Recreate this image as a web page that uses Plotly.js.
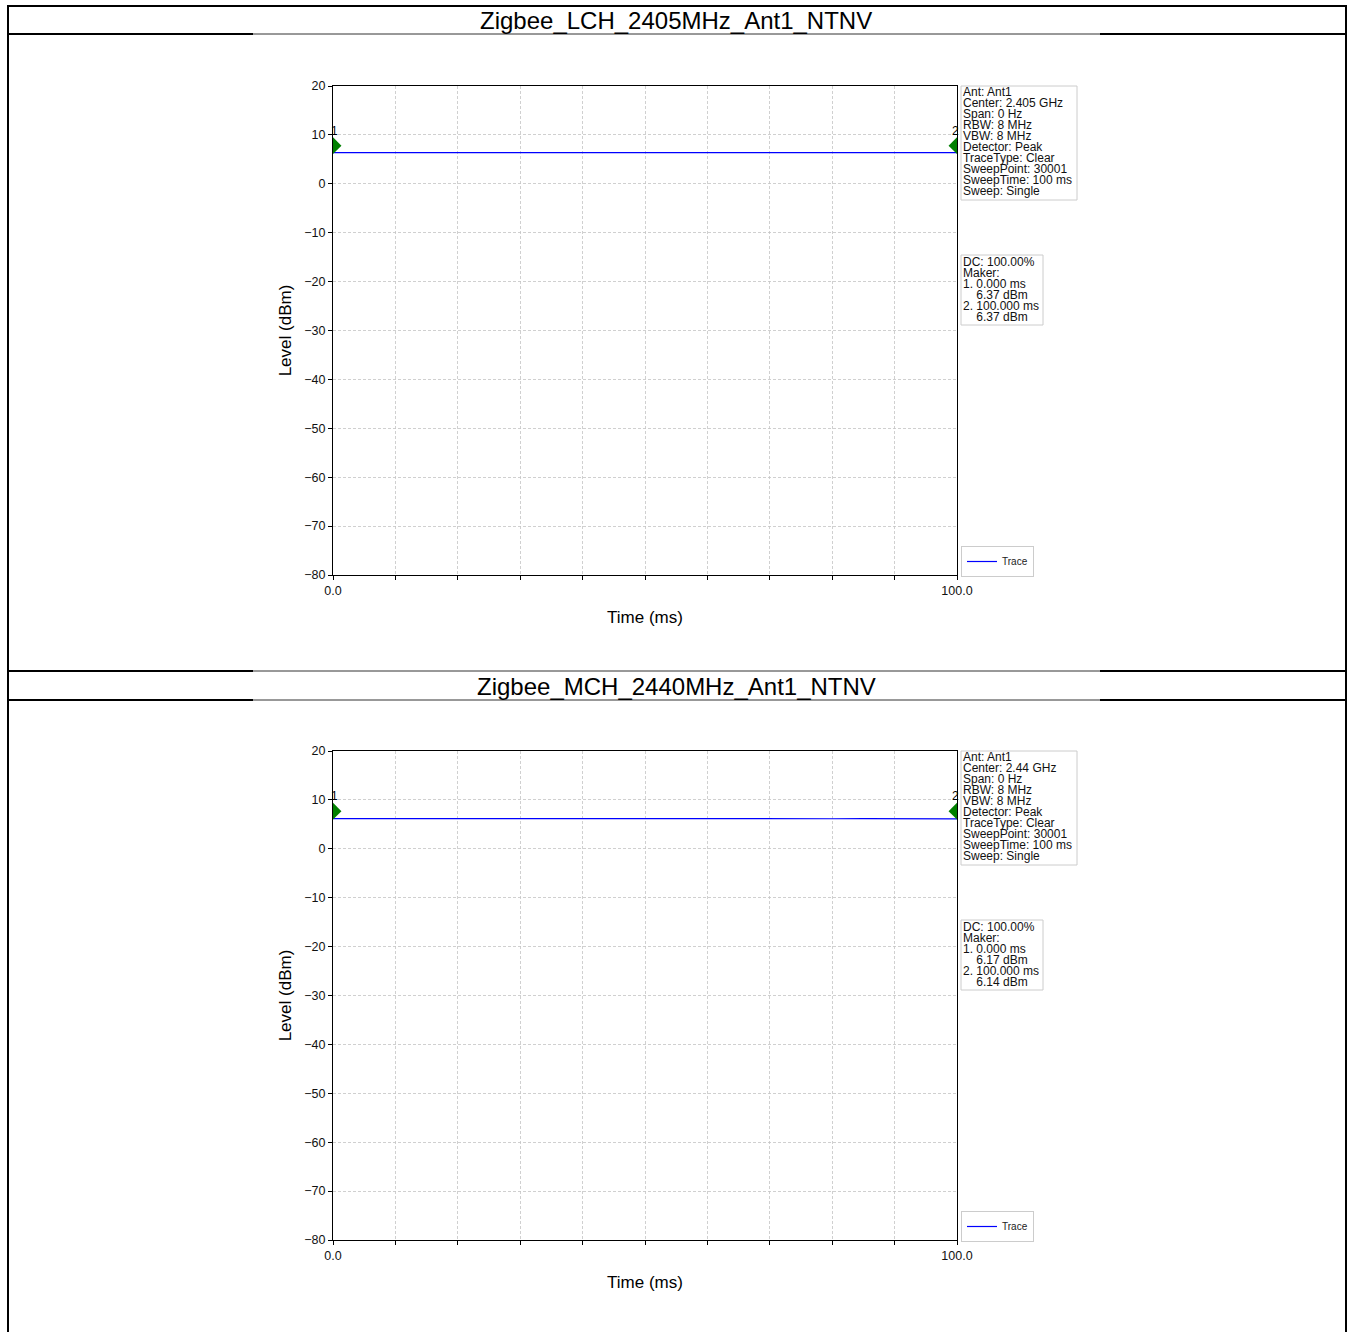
<!DOCTYPE html>
<html>
<head>
<meta charset="utf-8">
<script src="https://cdn.plot.ly/plotly-3.0.1.min.js"></script>
<style>
html,body{margin:0;padding:0;background:#fff;}
#chart{width:1348px;height:1332px;}
</style>
</head>
<body>
<div id="chart"></div>
<script>
// ---------- data ----------
const chartTitles = ["Zigbee_LCH_2405MHz_Ant1_NTNV", "Zigbee_MCH_2440MHz_Ant1_NTNV"];
const timeMs = [0, 5, 10, 15, 20, 25, 30, 35, 40, 45, 50, 55, 60, 65, 70, 75, 80, 85, 90, 95, 100];
const lchLevel = [6.37, 6.36, 6.38, 6.35, 6.37, 6.39, 6.36, 6.37, 6.35, 6.38, 6.36, 6.37, 6.39, 6.36, 6.35, 6.37, 6.38, 6.36, 6.37, 6.35, 6.37];
const mchLevel = [6.17, 6.16, 6.15, 6.17, 6.14, 6.16, 6.15, 6.17, 6.16, 6.14, 6.15, 6.16, 6.17, 6.15, 6.14, 6.16, 6.15, 6.17, 6.16, 6.15, 6.14];
const markerTime = [0, 100];
const markerLabels = ["1", "2"];
const lchMarkerLevel = [7.8, 7.8];
const mchMarkerLevel = [7.7, 7.7];
const xTickVals = [0, 10, 20, 30, 40, 50, 60, 70, 80, 90, 100];
const xTickText = ["0.0", "", "", "", "", "", "", "", "", "", "100.0"];
const yTickVals = [-80, -70, -60, -50, -40, -30, -20, -10, 0, 10, 20];
const lchInfo = ["Ant: Ant1", "Center: 2.405 GHz", "Span: 0 Hz", "RBW: 8 MHz", "VBW: 8 MHz", "Detector: Peak", "TraceType: Clear", "SweepPoint: 30001", "SweepTime: 100 ms", "Sweep: Single"];
const mchInfo = ["Ant: Ant1", "Center: 2.44 GHz", "Span: 0 Hz", "RBW: 8 MHz", "VBW: 8 MHz", "Detector: Peak", "TraceType: Clear", "SweepPoint: 30001", "SweepTime: 100 ms", "Sweep: Single"];
const lchMaker = ["DC: 100.00%", "Maker:", "1. 0.000 ms", "    6.37 dBm", "2. 100.000 ms", "    6.37 dBm"];
const mchMaker = ["DC: 100.00%", "Maker:", "1. 0.000 ms", "    6.17 dBm", "2. 100.000 ms", "    6.14 dBm"];

// ---------- layout helpers ----------
const W = 1348, H = 1332;
const X = p => p / W;
const Y = p => 1 - p / H;
const FONT = "Arial, 'Liberation Sans', sans-serif";
const OFF = 665; // vertical offset of second block
const BOX_FONT = 12, BOX_LINE = 11; // px

const shapes = [];
const annotations = [];

function hline(y, x0, x1, w, c) {
  shapes.push({type: 'line', xref: 'paper', yref: 'paper', x0: X(x0), x1: X(x1), y0: Y(y), y1: Y(y), line: {color: c || '#000', width: w}});
}
function vline(x, y0, y1, w) {
  shapes.push({type: 'line', xref: 'paper', yref: 'paper', x0: X(x), x1: X(x), y0: Y(y0), y1: Y(y1), line: {color: '#000', width: w}});
}
// table frame
hline(6, 7, 1347, 2);
vline(8, 5, 1332, 2);
vline(1346, 5, 1332, 2);
[34, 671, 700].forEach(y => {
  hline(y, 7, 253, 2);
  hline(y, 253, 1100, 1, '#333');
  hline(y, 1100, 1347, 2);
});

function boxText(lines) {
  return lines.map(t => t.replace(/^ +/, m => '\u00A0'.repeat(m.length))).join('<br>');
}

function block(k, info, maker) {
  const o = k * OFF;
  annotations.push({xref: 'paper', yref: 'paper', x: X(676), y: Y(21 + o), text: chartTitles[k], showarrow: false,
    xanchor: 'center', yanchor: 'middle', font: {family: FONT, size: 24, color: '#000'}});
  // info box
  shapes.push({type: 'rect', xref: 'paper', yref: 'paper', x0: X(961), x1: X(1077), y0: Y(86 + o), y1: Y(200 + o),
    line: {color: '#cccccc', width: 1}, fillcolor: '#fff'});
  annotations.push({xref: 'paper', yref: 'paper', x: X(962), y: Y(84 + o), text: boxText(info), showarrow: false,
    xanchor: 'left', yanchor: 'top', align: 'left', borderpad: 0, font: {family: FONT, size: BOX_FONT, color: '#111'}});
  shapes.push({type: 'rect', xref: 'paper', yref: 'paper', x0: X(961), x1: X(1043), y0: Y(255 + o), y1: Y(325 + o),
    line: {color: '#cccccc', width: 1}, fillcolor: '#fff'});
  annotations.push({xref: 'paper', yref: 'paper', x: X(962), y: Y(254 + o), text: boxText(maker), showarrow: false,
    xanchor: 'left', yanchor: 'top', align: 'left', borderpad: 0, font: {family: FONT, size: BOX_FONT, color: '#111'}});
  // marker numbers
  const xa = k === 0 ? 'x' : 'x2', ya = k === 0 ? 'y' : 'y2';
  markerTime.forEach((t, i) => {
    annotations.push({xref: xa, yref: ya, x: t, y: 10.8, text: markerLabels[i], showarrow: false,
      xanchor: i === 0 ? 'center' : 'right', xshift: i === 0 ? 1 : 4, yanchor: 'middle', font: {family: FONT, size: 12, color: '#000'}});
  });
}
block(0, lchInfo, lchMaker);
block(1, mchInfo, mchMaker);

function xaxisDef(anchor) {
  return {
    domain: [X(333), X(957)], anchor: anchor, range: [0, 100],
    tickmode: 'array', tickvals: xTickVals, ticktext: xTickText,
    ticks: 'outside', ticklen: 4, tickcolor: '#000', tickwidth: 1,
    showline: true, linecolor: '#000', linewidth: 1, mirror: true,
    showgrid: true, gridcolor: '#c4c4c4', griddash: '3px,2px', gridwidth: 0.8, zeroline: false,
    tickfont: {family: FONT, size: 12.5, color: '#111'},
    title: {text: 'Time (ms)', font: {family: FONT, size: 17, color: '#000'}, standoff: 14},
    fixedrange: true
  };
}
function yaxisDef(anchor, top, bottom) {
  return {
    domain: [Y(bottom), Y(top)], anchor: anchor, range: [-80, 20],
    tickmode: 'array', tickvals: yTickVals,
    ticks: 'outside', ticklen: 4, tickcolor: '#000', tickwidth: 1,
    showline: true, linecolor: '#000', linewidth: 1, mirror: true,
    showgrid: true, gridcolor: '#c4c4c4', griddash: '3px,2px', gridwidth: 0.8, zeroline: false,
    tickfont: {family: FONT, size: 12.5, color: '#111'},
    title: {text: 'Level (dBm)', font: {family: FONT, size: 17, color: '#000'}, standoff: 8},
    fixedrange: true
  };
}

const traces = [
  {x: timeMs, y: lchLevel, xaxis: 'x', yaxis: 'y', type: 'scatter', mode: 'lines', name: 'Trace',
    line: {color: '#0000ff', width: 1.2}, legend: 'legend'},
  {x: markerTime, y: lchMarkerLevel, xaxis: 'x', yaxis: 'y', type: 'scatter', mode: 'markers', showlegend: false,
    marker: {symbol: 'diamond', size: 13, color: '#008000'}, cliponaxis: true},
  {x: timeMs, y: mchLevel, xaxis: 'x2', yaxis: 'y2', type: 'scatter', mode: 'lines', name: 'Trace',
    line: {color: '#0000ff', width: 1.2}, legend: 'legend2'},
  {x: markerTime, y: mchMarkerLevel, xaxis: 'x2', yaxis: 'y2', type: 'scatter', mode: 'markers', showlegend: false,
    marker: {symbol: 'diamond', size: 13, color: '#008000'}, cliponaxis: true}
];

function legendDef(bottom) {
  return {x: X(961), y: Y(bottom), xanchor: 'left', yanchor: 'bottom', bgcolor: '#fff', bordercolor: '#cccccc', borderwidth: 1,
    font: {family: FONT, size: 10, color: '#222'}, itemwidth: 30, tracegroupgap: 0};
}

const layout = {
  width: W, height: H, margin: {l: 0, r: 0, t: 0, b: 0},
  paper_bgcolor: '#fff', plot_bgcolor: '#fff',
  xaxis: xaxisDef('y'), yaxis: yaxisDef('x', 86, 575),
  xaxis2: xaxisDef('y2'), yaxis2: yaxisDef('x2', 86 + OFF, 575 + OFF),
  legend: legendDef(577), legend2: legendDef(577 + OFF),
  shapes: shapes, annotations: annotations, showlegend: true
};

// tighten the line spacing of the multi-line info boxes (matplotlib-like)
function tightenLines(gd) {
  gd.querySelectorAll('.annotation-text').forEach(t => {
    const lines = t.querySelectorAll('tspan.line');
    if (!lines.length) return;
    lines.forEach((ts, i) => ts.setAttribute('dy', (i * BOX_LINE / BOX_FONT) + 'em'));
  });
}

const gd = document.getElementById('chart');
Plotly.newPlot(gd, traces, layout, {displayModeBar: false, staticPlot: true}).then(() => tightenLines(gd));
</script>
</body>
</html>
